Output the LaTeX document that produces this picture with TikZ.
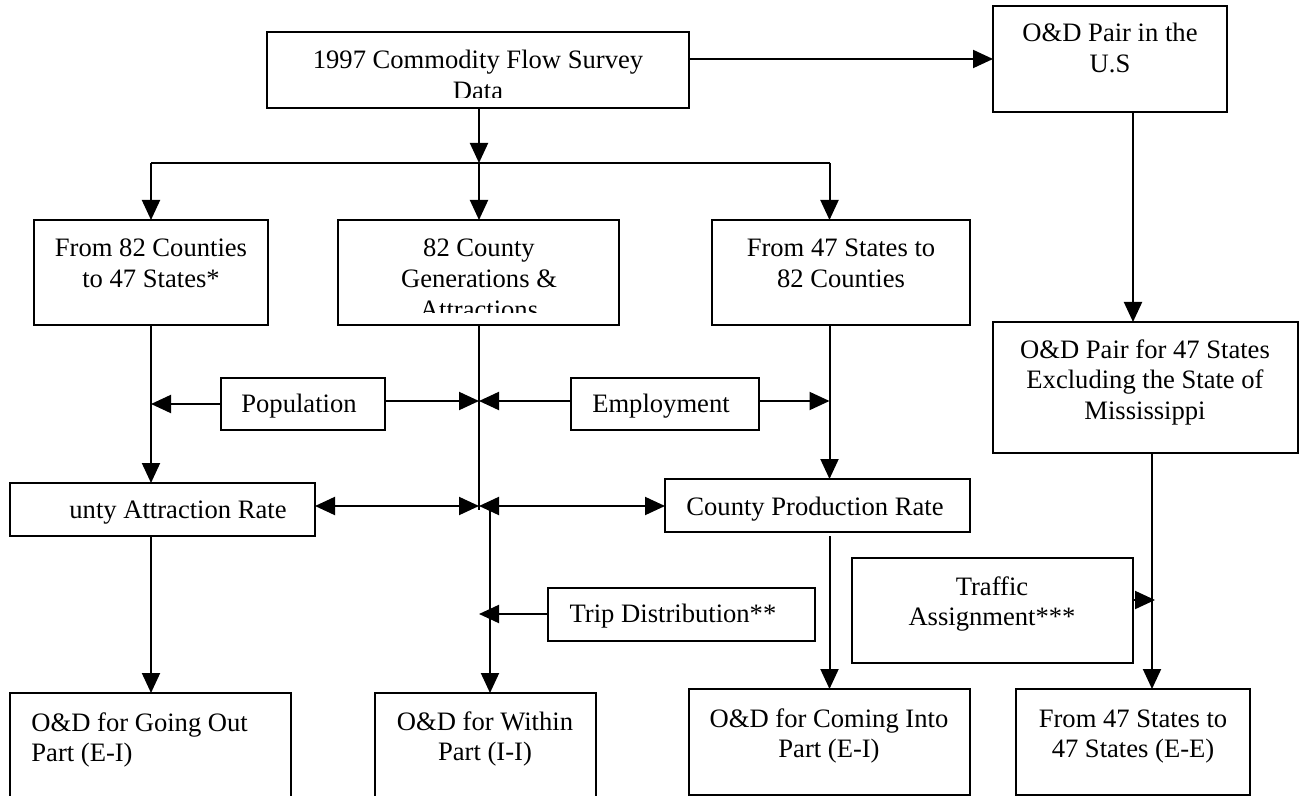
\documentclass[tikz,border=0pt]{standalone}
\usepackage{fontspec}
\setmainfont{Liberation Serif}
\usetikzlibrary{arrows.meta,calc}
\begin{document}
\begin{tikzpicture}[x=0.5pt,y=-0.5pt,
  box/.style={draw,line width=1pt,rectangle,inner sep=0pt,outer sep=0pt,anchor=north west},
  txt/.style={font=\fontsize{13.3}{15.3}\selectfont,align=center,inner sep=0pt,anchor=base},
  link/.style={line width=1pt},
  arr/.style={link,-{Triangle[length=10pt,width=9pt]}},
  darr/.style={link,{Triangle[length=10pt,width=9pt]}-{Triangle[length=10pt,width=9pt]}}]
\useasboundingbox (0,0) rectangle (1300,796);
\clip (0,0) rectangle (1300,796);

% boxes
\node[box,minimum width=211pt,minimum height=38pt] (cfs) at (267,32) {};
\node[box,minimum width=117pt,minimum height=53pt] (us) at (993,6) {};
\node[box,minimum width=117pt,minimum height=52.5pt] (c2s) at (34,220) {};
\node[box,minimum width=140.5pt,minimum height=52.5pt] (gen) at (338,220) {};
\node[box,minimum width=129pt,minimum height=52.5pt] (s2c) at (712,220) {};
\node[box,minimum width=152.25pt,minimum height=65.5pt] (ss) at (993,322) {};
\node[box,minimum width=82pt,minimum height=26pt] (pop) at (221,378) {};
\node[box,minimum width=94pt,minimum height=26pt] (emp) at (571,378) {};
\node[box,minimum width=152.5pt,minimum height=26.5pt] (car) at (10,483) {};
\node[box,minimum width=152.5pt,minimum height=26.5pt] (cpr) at (665,479) {};
\node[box,minimum width=133.5pt,minimum height=26.5pt] (trip) at (548,588) {};
\node[box,minimum width=140.5pt,minimum height=52.5pt] (ta) at (852,558) {};
\node[box,minimum width=140.5pt,minimum height=63.5pt] (out) at (10,693) {};
\node[box,minimum width=110.5pt,minimum height=63.5pt] (within) at (375,693) {};
\node[box,minimum width=140.75pt,minimum height=53pt] (into) at (688.5,689) {};
\node[box,minimum width=117pt,minimum height=53pt] (ee) at (1016,689) {};

% box texts (positioned by the baseline of their last line)
\begin{scope}
  \clip (cfs.north west) rectangle ($(cfs.south east)+(0,-10)$);
  \node[txt] (cfs-t) at (478,99.6) {1997 Commodity Flow Survey\\Data};
\end{scope}
\begin{scope}
  \clip (gen.north west) rectangle ($(gen.south east)+(0,-12)$);
  \node[txt] (gen-t) at (479,318.2) {82 County\\Generations \&\\Attractions};
\end{scope}
\node[txt] (us-t) at (1110,72.6) {O\&D Pair in the\\U.S};
\node[txt] (c2s-t) at (151,287.6) {From 82 Counties\\to 47 States*};
\node[txt] (s2c-t) at (841,287.6) {From 47 States to\\82 Counties};
\node[txt] (ss-t) at (1145,419.2) {O\&D Pair for 47 States\\Excluding the State of\\Mississippi};
\node[txt] (pop-t) at (299,413) {Population};
\node[txt] (emp-t) at (661,413) {Employment};
\node[txt] (car-t) at (178,518) {unty Attraction Rate};
\node[txt] (cpr-t) at (815,515) {County Production Rate};
\node[txt] (trip-t) at (673,622) {Trip Distribution**};
\node[txt] (ta-t) at (992,625.6) {Traffic\\Assignment***};
\node[txt,align=left,anchor=base west] (out-t) at (31,761.6) {O\&D for Going Out\\Part (E-I)};
\node[txt] (within-t) at (485,760.6) {O\&D for Within\\Part (I-I)};
\node[txt] (into-t) at (829,757.6) {O\&D for Coming Into\\Part (E-I)};
\node[txt] (ee-t) at (1133,757.6) {From 47 States to\\47 States (E-E)};

% junction points
\coordinate (fork) at (479,163);
\coordinate (forkL) at (151,163);
\coordinate (forkR) at (829.5,163);
\coordinate (usin) at (993,59);
\coordinate (usout) at (1133,112);
\coordinate (jL) at (151,404);
\coordinate (jM) at (479,401);
\coordinate (jR) at (829.5,401);
\coordinate (jC) at (479,506);
\coordinate (midend) at (479,510);
\coordinate (lowtop) at (490,506);
\coordinate (jT) at (479,614);
\coordinate (cprout) at (829.5,536);
\coordinate (ssout) at (1152,453);
\coordinate (jA) at (1155,600);

% connectors
\draw[arr] (cfs.east |- usin) -- (usin);
\draw[arr] (cfs.south -| fork) -- (fork);
\draw[link] (forkL) -- (forkR);
\draw[arr] (forkL) -- (forkL |- c2s.north);
\draw[arr] (fork) -- (fork |- gen.north);
\draw[arr] (forkR) -- (forkR |- s2c.north);
\draw[arr] (usout) -- (usout |- ss.north);

\draw[arr] (c2s.south -| forkL) -- (forkL |- car.north);
\draw[link] (gen.south -| jM) -- (midend);
\draw[arr] (s2c.south -| forkR) -- (forkR |- cpr.north);

\draw[arr] (pop.west |- jL) -- (jL);
\draw[arr] (pop.east |- jM) -- (jM);
\draw[arr] (emp.west |- jM) -- (jM);
\draw[arr] (emp.east |- jR) -- (jR);

\draw[darr] (car.east |- jC) -- (jC);
\draw[darr] (jC) -- (jC -| cpr.west);
\draw[arr] (lowtop) -- (lowtop |- within.north);
\draw[arr] (trip.west |- jT) -- (jT);

\draw[arr] (car.south -| forkL) -- (forkL |- out.north);
\draw[arr] (cprout) -- (cprout |- into.north);
\draw[arr] (ssout) -- (ssout |- ee.north);
\draw[arr] (ta.east |- jA) -- (jA);
\end{tikzpicture}
\end{document}
